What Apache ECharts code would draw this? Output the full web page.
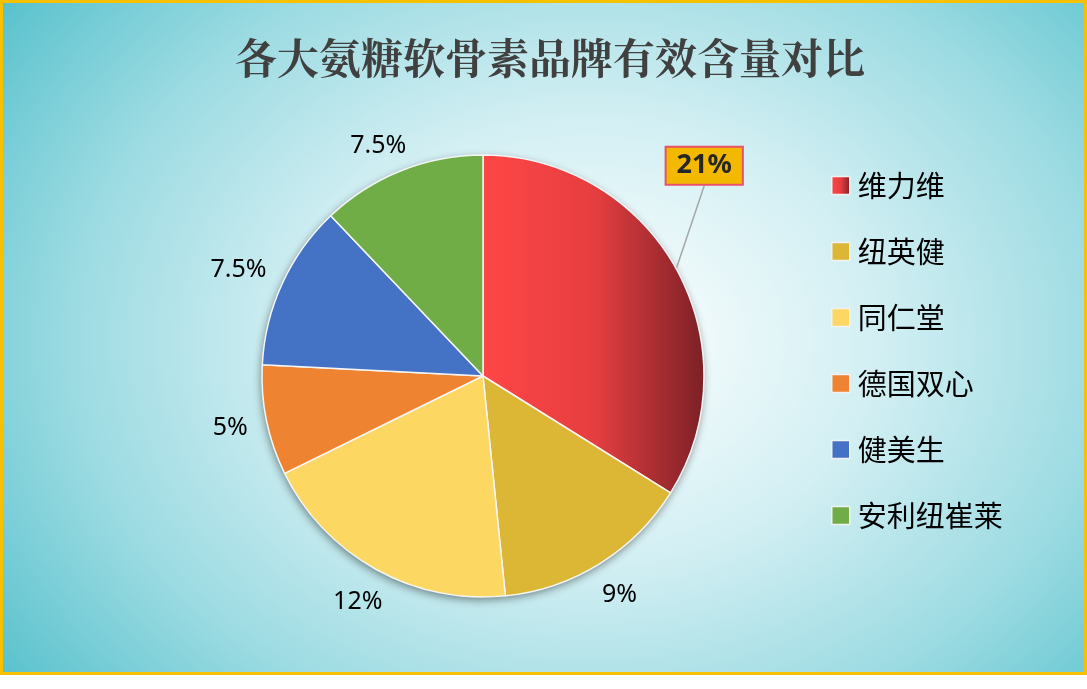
<!DOCTYPE html>
<html><head><meta charset="utf-8">
<script src="https://cdn.jsdelivr.net/npm/echarts/dist/echarts.min.js"></script>
<style>
html,body{margin:0;padding:0;background:#fff;}
#wrap{position:relative;width:1087px;height:675px;}
#chart{position:absolute;left:0;top:0;width:1087px;height:675px;
background: radial-gradient(ellipse 720px 560px at 590px 340px, #ffffff 0%, #f0fafb 14%, #d2eff3 40%, #9cdbe2 72%, #5cc3ce 100%);}
#frame{position:absolute;left:0;top:0;width:1087px;height:675px;box-sizing:border-box;border:3px solid #f7c100;pointer-events:none;}
</style></head>
<body><div id="wrap"><div id="chart"></div><div id="frame"></div></div>
<script>
// ---- data ----
const titleText = '各大氨糖软骨素品牌有效含量对比';
const brands = ['维力维', '纽英健', '同仁堂', '德国双心', '健美生', '安利纽崔莱'];
const contents = [21, 9, 12, 5, 7.5, 7.5];
const sliceColors = [
  null, // gradient for the first slice
  '#dcb735', '#fcd862', '#ee8331', '#4472c4', '#70ad47'
];

const redGradient = new echarts.graphic.LinearGradient(0, 0, 1, 0, [
  { offset: 0, color: '#ff4646' },
  { offset: 0.5, color: '#e63e40' },
  { offset: 1, color: '#7b2126' }
]);

// small label nudges (px) for the outside percentage labels, by slice index
const labelNudge = { 4: [-10, 2], 5: [-9, 9] };

const chart = echarts.init(document.getElementById('chart'), null, { renderer: 'canvas' });
const center = [483, 376];
const R = 221;

chart.setOption({
  backgroundColor: 'transparent',
  animation: false,
  title: {
    text: titleText,
    left: 550,
    textAlign: 'center',
    top: 32,
    padding: [5, 0, 5, 0],
    textStyle: {
      fontSize: 42,
      fontWeight: 'bold',
      color: '#404040',
      fontFamily: '"Noto Serif CJK SC", "Noto Sans CJK SC", serif'
    }
  },
  legend: {
    orient: 'vertical',
    left: 826,
    top: 166,
    itemWidth: 18,
    itemHeight: 18,
    itemGap: 37,
    icon: 'rect',
    selectedMode: false,
    data: brands,
    itemStyle: { borderColor: '#f2f2f2', borderWidth: 1.5 },
    textStyle: {
      fontSize: 29,
      color: '#000',
      fontFamily: '"Noto Sans CJK SC", sans-serif',
      padding: [0, 0, 0, 3]
    }
  },
  series: [
    {
      type: 'pie',
      name: '有效含量',
      z: 3,
      center: center,
      radius: R,
      startAngle: 90,
      clockwise: true,
      avoidLabelOverlap: false,
      emphasis: { disabled: true },
      itemStyle: { borderColor: '#f5f5f5', borderWidth: 1.5 },
      label: {
        position: 'outside',
        formatter: '{c}%',
        fontSize: 27,
        fontWeight: 'bold',
        color: '#262626',
        fontFamily: '"Noto Sans", sans-serif',
        backgroundColor: '#f3b800',
        borderColor: '#e9506b',
        borderWidth: 2,
        padding: [5, 10, 4, 10]
      },
      labelLine: { length: 20, length2: 0, lineStyle: { color: '#a6a6a6', width: 1.5 } },
      labelLayout: function (p) {
        if (p.dataIndex !== 0 || !p.labelLinePoints) return;
        const a = p.labelLinePoints[0];
        const x = a[0] + 28, y = a[1] - 103;
        const yb = y + p.labelRect.height / 2;
        return {
          x: x, y: y, align: 'center', verticalAlign: 'middle',
          labelLinePoints: [a, [x, yb], [x, yb]]
        };
      },
      data: brands.map((n, i) => ({
        name: n,
        value: contents[i],
        itemStyle: { color: i === 0 ? redGradient : sliceColors[i] },
        label: { show: i === 0 },
        labelLine: { show: i === 0 }
      }))
    },
    {
      type: 'pie',
      z: 2,
      silent: true,
      center: center,
      radius: R,
      startAngle: 90,
      clockwise: true,
      emphasis: { disabled: true },
      tooltip: { show: false },
      legendHoverLink: false,
      itemStyle: {
        color: '#e0e0e0',
        shadowBlur: 8,
        shadowColor: 'rgba(0,0,0,0.45)',
        shadowOffsetX: -1,
        shadowOffsetY: 3
      },
      label: { show: false },
      labelLine: { show: false },
      data: contents.map(v => ({ value: v }))
    },
    {
      type: 'pie',
      z: 1,
      silent: true,
      center: center,
      radius: [236, 274],
      startAngle: 90,
      clockwise: true,
      avoidLabelOverlap: false,
      legendHoverLink: false,
      emphasis: { disabled: true },
      itemStyle: { color: 'rgba(0,0,0,0)', borderWidth: 0 },
      label: {
        position: 'inside',
        formatter: '{c}%',
        fontSize: 25,
        color: '#000',
        fontFamily: '"Noto Sans", sans-serif'
      },
      labelLine: { show: false },
      labelLayout: function (p) {
        const d = labelNudge[p.dataIndex];
        if (!d) return;
        return { dx: d[0], dy: d[1] };
      },
      data: brands.map((n, i) => ({
        name: n,
        value: contents[i],
        label: { show: i !== 0 }
      }))
    }
  ]
});
</script>
</body></html>
